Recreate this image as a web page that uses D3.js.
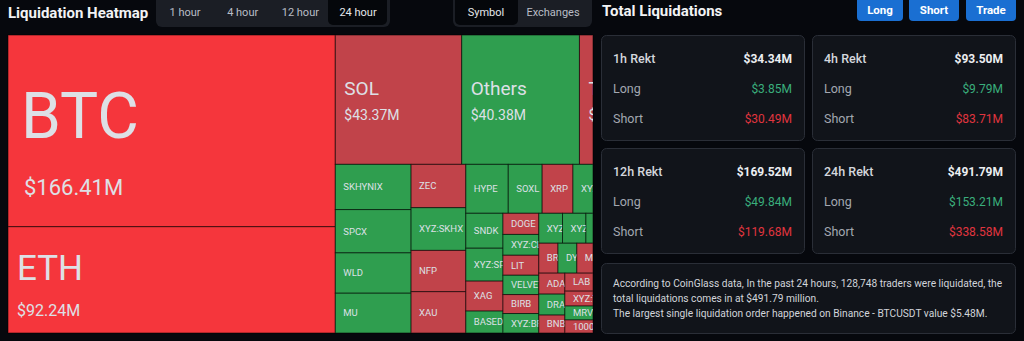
<!DOCTYPE html>
<html>
<head>
<meta charset="utf-8">
<script src="https://cdn.jsdelivr.net/npm/d3@7"></script>
<style>
  html, body { margin: 0; padding: 0; background: #06080d; }
  svg { display: block; font-family: Roboto, "Noto Sans", sans-serif; }
</style>
</head>
<body>
<div id="chart"></div>
<script>
// treemap groups (names, values in $M, trend: -2 strong down, -1 down, 1 up)
var bigNames = ["BTC", "ETH"];
var bigValues = [166.41, 92.24];
var bigTrend = [-2, -2];

var topNames = ["SOL", "Others", "TON"];
var topValues = [43.37, 40.38, 4.65];
var topTrend = [-1, 1, -1];

var col1Names = ["SKHYNIX", "SPCX", "WLD", "MU"];
var col1Values = [9.1, 8.7, 8.1, 8.0];
var col1Trend = [1, 1, 1, 1];

var col2Names = ["ZEC", "XYZ:SKHX", "NFP", "XAU"];
var col2Values = [6.3, 6.2, 6.0, 6.0];
var col2Trend = [-1, 1, -1, -1];

var row3Names = ["HYPE", "SOXL", "XRP", "XYZ:HOOD"];
var row3Values = [5.5, 4.4, 4.0, 2.6];
var row3Trend = [1, 1, -1, 1];

var sndkNames = ["SNDK", "XYZ:SPX", "XAG", "BASED"];
var sndkValues = [3.44, 3.24, 2.95, 2.16];
var sndkTrend = [1, 1, -1, 1];

var dogeNames = ["DOGE", "XYZ:CL", "LIT", "VELVET", "BIRB", "XYZ:BRENT"];
var dogeValues = [2.01, 1.98, 1.9, 1.84, 1.8, 1.85];
var dogeTrend = [-1, 1, -1, 1, -1, 1];

var rowANames = ["XYZ:AMD", "XYZ:NVDA", "PUMP"];
var rowAValues = [1.88, 1.86, 0.56];
var rowATrend = [1, 1, 1];

var rowBNames = ["BREV", "DYDX", "MON"];
var rowBValues = [1.52, 1.5, 1.28];
var rowBTrend = [-1, 1, -1];

var adaNames = ["ADA", "DRAM", "BNB"];
var adaValues = [1.45, 1.45, 1.24];
var adaTrend = [-1, 1, -1];

var labNames = ["LAB", "XYZ:TSLA", "MRVL", "1000PEPE"];
var labValues = [1.34, 1.11, 1.04, 0.97];
var labTrend = [-1, -1, 1, -1];

// right side panels
var cardTitles = ["1h Rekt", "4h Rekt", "12h Rekt", "24h Rekt"];
var cardTotal = [34.34, 93.50, 169.52, 491.79];
var cardLong = [3.85, 9.79, 49.84, 153.21];
var cardShort = [30.49, 83.71, 119.68, 338.58];

var tabs = ["1 hour", "4 hour", "12 hour", "24 hour"];
var views = ["Symbol", "Exchanges"];
var buttons = ["Long", "Short", "Trade"];

var infoLines = [
  "According to CoinGlass data, In the past 24 hours, 128,748 traders were liquidated, the",
  "total liquidations comes in at $491.79 million.",
  "The largest single liquidation order happened on Binance - BTCUSDT value $5.48M."
];

function leaves(names, values, trend) {
  return names.map(function(n, i) { return {name: n, value: values[i], trend: trend[i]}; });
}

var tree = {children: [
  {children: leaves(bigNames, bigValues, bigTrend)},
  {children: [
    {children: leaves(topNames, topValues, topTrend)},
    {children: [
      {children: leaves(col1Names, col1Values, col1Trend)},
      {children: leaves(col2Names, col2Values, col2Trend)},
      {children: [
        {children: leaves(row3Names, row3Values, row3Trend)},
        {children: [
          {children: leaves(sndkNames, sndkValues, sndkTrend)},
          {children: leaves(dogeNames, dogeValues, dogeTrend)},
          {children: [
            {children: leaves(rowANames, rowAValues, rowATrend)},
            {children: leaves(rowBNames, rowBValues, rowBTrend)},
            {children: [
              {children: leaves(adaNames, adaValues, adaTrend)},
              {children: leaves(labNames, labValues, labTrend)}
            ]}
          ]}
        ]}
      ]}
    ]}
  ]}
]};

var width = 1024, height = 341;
var svg = d3.select("#chart").append("svg")
    .attr("width", width)
    .attr("height", height);

// ---------- header left ----------
svg.append("text")
    .attr("x", 8).attr("y", 18)
    .attr("fill", "#f2f3f5")
    .style("font-size", "15px").style("font-weight", "700")
    .text("Liquidation Heatmap");

svg.append("rect")
    .attr("x", 156).attr("y", -6).attr("width", 234).attr("height", 33)
    .attr("rx", 6).attr("fill", "#1b1e25");
svg.append("rect")
    .attr("x", 328).attr("y", -6).attr("width", 59).attr("height", 31)
    .attr("rx", 5).attr("fill", "#05070b");

var tabX = d3.scalePoint().domain(tabs).range([185, 358]);
svg.selectAll(".tab")
    .data(tabs)
    .join("text")
    .attr("x", d => tabX(d)).attr("y", 16)
    .attr("text-anchor", "middle")
    .attr("fill", (d, i) => i == 3 ? "#e6e8ec" : "#b9bdc6")
    .style("font-size", "11px")
    .text(d => d);

svg.append("rect")
    .attr("x", 453).attr("y", -6).attr("width", 139).attr("height", 33)
    .attr("rx", 6).attr("fill", "#1b1e25");
svg.append("rect")
    .attr("x", 455).attr("y", -6).attr("width", 63).attr("height", 31)
    .attr("rx", 5).attr("fill", "#05070b");

var viewX = d3.scalePoint().domain(views).range([486, 553]);
svg.selectAll(".view")
    .data(views)
    .join("text")
    .attr("x", d => viewX(d)).attr("y", 16)
    .attr("text-anchor", "middle")
    .attr("fill", (d, i) => i == 0 ? "#e6e8ec" : "#b9bdc6")
    .style("font-size", "11px")
    .text(d => d);

// ---------- treemap ----------
var root = d3.hierarchy(tree).sum(d => d.value || 0);
d3.treemap()
    .tile(d3.treemapSliceDice)
    .size([585, 298])
    .round(false)(root);

var color = d3.scaleOrdinal()
    .domain([-2, -1, 1])
    .range(["#f5363c", "#c1434a", "#2f9e4f"]);

var map = svg.append("g").attr("transform", "translate(8,35)");

var cell = map.selectAll("g")
    .data(root.leaves())
    .join("g")
    .attr("transform", d => "translate(" + d.x0 + "," + d.y0 + ")");

cell.append("clipPath")
    .attr("id", (d, i) => "clip" + i)
    .append("rect")
    .attr("width", d => d.x1 - d.x0)
    .attr("height", d => d.y1 - d.y0);

cell.append("rect")
    .attr("width", d => d.x1 - d.x0)
    .attr("height", d => d.y1 - d.y0)
    .attr("fill", d => color(d.data.trend))
    .attr("stroke", "#000")
    .attr("stroke-opacity", 0.55)
    .attr("stroke-width", 1);

// label tiers by value
function tier(v) {
  if (v > 120) return {name: 64, val: 22, dx: 13, vdx: 16, ny: 7, vy: 64};
  if (v > 60) return {name: 35, val: 16, dx: 9, vdx: 9, ny: 0, vy: 36};
  if (v > 4) return {name: 19, val: 14, dx: 9, vdx: 9, ny: -4.5, vy: 20.5};
  return null;
}

var lbl = cell.append("g")
    .attr("clip-path", (d, i) => "url(#clip" + i + ")")
    .filter(d => d.x1 - d.x0 >= 12);

lbl.each(function(d) {
  var g = d3.select(this);
  var w = d.x1 - d.x0, h = d.y1 - d.y0;
  var t = tier(d.value);
  var big = t && d.parent.depth <= 2;
  if (big) {
    g.append("text")
        .attr("x", t.dx).attr("y", h / 2 + t.ny)
        .attr("fill", "#dde0e6")
        .style("font-size", t.name + "px")
        .text(d.data.name);
    g.append("text")
        .attr("x", t.vdx).attr("y", h / 2 + t.vy)
        .attr("fill", "#dde0e6")
        .style("font-size", t.val + "px")
        .text("$" + d3.format(".2f")(d.value) + "M");
  } else {
    g.append("text")
        .attr("x", 8).attr("y", h / 2)
        .attr("dy", "0.35em")
        .attr("fill", "#dde0e6")
        .style("font-size", "9.5px")
        .text(d.data.name);
  }
});

// ---------- right side ----------
svg.append("text")
    .attr("x", 602).attr("y", 16)
    .attr("fill", "#f2f3f5")
    .style("font-size", "15px").style("font-weight", "700")
    .text("Total Liquidations");

var btnX = [857, 909, 966], btnW = [46, 50, 50];
var btn = svg.selectAll(".btn")
    .data(buttons)
    .join("g")
    .attr("transform", (d, i) => "translate(" + btnX[i] + ",0)");
btn.append("rect")
    .attr("y", -5).attr("width", (d, i) => btnW[i]).attr("height", 26)
    .attr("rx", 4).attr("fill", "#1a6fd2");
btn.append("text")
    .attr("x", (d, i) => btnW[i] / 2).attr("y", 13.5)
    .attr("text-anchor", "middle")
    .attr("fill", "#ffffff")
    .style("font-size", "11.5px").style("font-weight", "700")
    .text(d => d);

var fmt = d3.format(".2f");
var cardX = [601, 812, 601, 812], cardY = [35, 35, 148, 148];
var card = svg.selectAll(".card")
    .data(cardTitles)
    .join("g")
    .attr("transform", (d, i) => "translate(" + cardX[i] + "," + cardY[i] + ")");

card.append("rect")
    .attr("x", 0.5).attr("y", 0.5).attr("width", 203).attr("height", 105)
    .attr("rx", 5).attr("fill", "#11141a").attr("stroke", "#2a2e37");

card.each(function(d, i) {
  var g = d3.select(this);
  var vals = [cardTotal[i], cardLong[i], cardShort[i]];
  var cols = ["#eceef1", "#3aae7c", "#e0353f"];
  [d, "Long", "Short"].forEach(function(lab, r) {
    g.append("text")
        .attr("x", 12).attr("y", 24 + r * 30).attr("dy", "0.35em")
        .attr("fill", r == 0 ? "#d4d7dd" : "#a3a8b1")
        .style("font-size", "12.5px").style("font-weight", r == 0 ? "500" : "400")
        .text(lab);
    g.append("text")
        .attr("x", 191).attr("y", 24 + r * 30).attr("dy", "0.35em")
        .attr("text-anchor", "end")
        .attr("fill", cols[r])
        .style("font-size", "12px").style("font-weight", r == 0 ? "700" : "400")
        .text("$" + fmt(vals[r]) + "M");
  });
});

svg.append("rect")
    .attr("x", 601.5).attr("y", 263.5).attr("width", 414).attr("height", 70)
    .attr("rx", 5).attr("fill", "#11141a").attr("stroke", "#2a2e37");

svg.selectAll(".info")
    .data(infoLines)
    .join("text")
    .attr("x", 613).attr("y", (d, i) => 283 + i * 15).attr("dy", "0.35em")
    .attr("fill", "#d2d5db")
    .style("font-size", "10.2px")
    .text(d => d);
</script>
</body>
</html>
